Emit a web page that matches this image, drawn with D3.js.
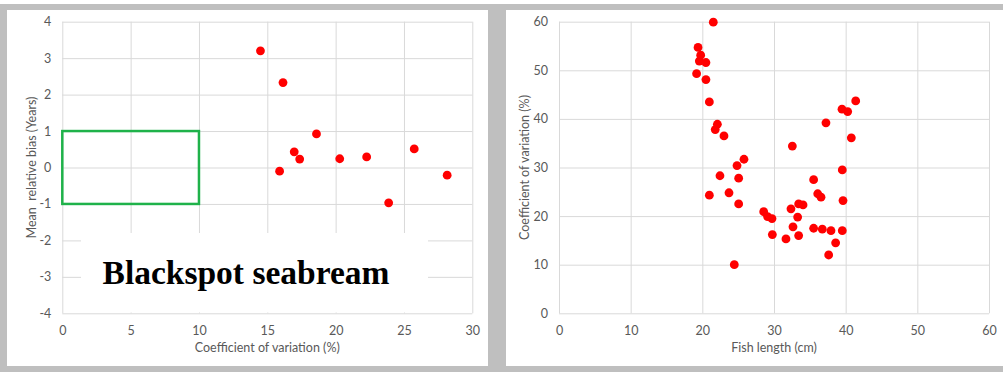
<!DOCTYPE html>
<html>
<head>
<meta charset="utf-8">
<script src="https://cdn.jsdelivr.net/npm/d3@7"></script>
<style>
  html, body { margin: 0; padding: 0; background: #fff; }
  svg { display: block; }
  .tick text { font-family: Lato, "Open Sans", sans-serif; font-size: 12.5px; fill: #595959; }
  .axis-title { font-family: Lato, "Open Sans", sans-serif; font-size: 12.5px; fill: #595959; white-space: pre; }
</style>
</head>
<body>
<svg id="chart" width="1003" height="372"></svg>
<script>
// Left panel: age-reading bias versus coefficient of variation
const leftCV   = [14.5, 16.15, 18.6, 16.97, 17.37, 15.9, 20.3, 22.27, 25.75, 28.16, 23.88];
const leftBias = [3.2, 2.33, 0.92, 0.43, 0.23, -0.1, 0.24, 0.29, 0.51, -0.21, -0.97];
const leftXTicks = [0, 5, 10, 15, 20, 25, 30];
const leftYTicks = [-4, -3, -2, -1, 0, 1, 2, 3, 4];
// Target zone: CV up to 10 %, bias within ±1 year
const targetCV = [0, 10];
const targetBias = [-1, 1];

// Right panel: coefficient of variation versus fish length
const fishLength = [21.53, 19.4, 19.77, 19.58, 20.5, 19.2, 20.5, 20.98, 22.1, 21.8,
                    23.02, 32.56, 37.25, 39.49, 40.28, 41.4, 40.79, 39.53, 25.81, 24.84,
                    22.46, 25.07, 20.98, 23.72, 25.07, 28.56, 29.1, 29.72, 29.77, 31.67,
                    24.46, 32.37, 32.65, 33.3, 33.44, 34.05, 33.44, 35.53, 36.1, 36.56,
                    35.53, 36.74, 37.95, 38.6, 37.63, 39.63, 39.53];
const lengthCV   = [59.9, 54.7, 53.1, 51.9, 51.6, 49.3, 48.1, 43.5, 38.9, 37.8,
                    36.5, 34.4, 39.2, 42.0, 41.5, 43.7, 36.1, 29.5, 31.7, 30.4,
                    28.3, 27.8, 24.3, 24.8, 22.5, 20.9, 19.9, 19.5, 16.2, 15.3,
                    10.0, 21.5, 17.8, 19.8, 22.5, 22.3, 16.0, 27.5, 24.6, 23.9,
                    17.5, 17.3, 17.0, 14.5, 12.0, 23.2, 17.0];
const rightXTicks = [0, 10, 20, 30, 40, 50, 60];
const rightYTicks = [0, 10, 20, 30, 40, 50, 60];

const svg = d3.select("#chart");
const frame = "#bfbfbf";

// Grey frame around the two panels
svg.append("rect").attr("x", 0).attr("y", 4).attr("width", 1003).attr("height", 6).attr("fill", frame);
svg.append("rect").attr("x", 0).attr("y", 4).attr("width", 7).attr("height", 368).attr("fill", frame);
svg.append("rect").attr("x", 488).attr("y", 4).attr("width", 18).attr("height", 368).attr("fill", frame);
svg.append("rect").attr("x", 0).attr("y", 366).attr("width", 1003).attr("height", 6).attr("fill", frame);

// Plain hyphen for negative tick labels
const plain = d => String(d);

function drawPanel(opts) {
  const x = d3.scaleLinear().domain(opts.xDomain).range(opts.xRange);
  const y = d3.scaleLinear().domain(opts.yDomain).range(opts.yRange);
  const h = opts.yRange[0] - opts.yRange[1];
  const w = opts.xRange[1] - opts.xRange[0];

  const gx = svg.append("g")
    .attr("transform", `translate(0,${opts.yRange[0]})`)
    .call(d3.axisBottom(x).tickValues(opts.xTicks).tickFormat(plain).tickSize(-h).tickPadding(10));
  const gy = svg.append("g")
    .attr("transform", `translate(${opts.xRange[0]},0)`)
    .call(d3.axisLeft(y).tickValues(opts.yTicks).tickFormat(plain).tickSize(-w).tickPadding(11));
  [gx, gy].forEach(g => {
    g.select(".domain").remove();
    g.selectAll(".tick line").attr("stroke", "#d9d9d9").attr("stroke-width", 1);
  });
  gx.selectAll(".tick text").attr("dy", "0.9em");

  svg.append("text").attr("class", "axis-title")
    .attr("x", (opts.xRange[0] + opts.xRange[1]) / 2).attr("y", 352)
    .attr("text-anchor", "middle").text(opts.xTitle);
  svg.append("text").attr("class", "axis-title")
    .attr("transform", `translate(${opts.yTitleX},${(opts.yRange[0] + opts.yRange[1]) / 2}) rotate(-90)`)
    .attr("text-anchor", "middle").text(opts.yTitle);
  return { x, y };
}

// Left panel
const L = drawPanel({
  xDomain: [0, 30], xRange: [62.3, 472.3],
  yDomain: [-4, 4], yRange: [313.3, 21.7],
  xTicks: leftXTicks, yTicks: leftYTicks,
  xTitle: "Coefficient of variation (%)",
  yTitle: "Mean  relative bias (Years)", yTitleX: 36
});

// Species label on a white card over the lower grid
svg.append("rect").attr("x", 81).attr("y", 233).attr("width", 347).attr("height", 79.5).attr("fill", "#fff");
svg.append("text")
  .attr("x", 246).attr("y", 283.5).attr("text-anchor", "middle")
  .attr("font-family", "'Liberation Serif', 'DejaVu Serif', serif")
  .attr("font-weight", "bold").attr("font-size", 33.5).attr("fill", "#000")
  .text("Blackspot seabream");

svg.append("rect")
  .attr("x", L.x(targetCV[0])).attr("y", L.y(targetBias[1]))
  .attr("width", L.x(targetCV[1]) - L.x(targetCV[0]))
  .attr("height", L.y(targetBias[0]) - L.y(targetBias[1]))
  .attr("fill", "none").attr("stroke", "#1fb24a").attr("stroke-width", 2.5);

svg.append("g").selectAll("circle").data(leftCV).join("circle")
  .attr("cx", d => L.x(d)).attr("cy", (d, i) => L.y(leftBias[i]))
  .attr("r", 4.4).attr("fill", "#ff0000");

// Right panel
const R = drawPanel({
  xDomain: [0, 60], xRange: [559, 989],
  yDomain: [0, 60], yRange: [313.3, 21.7],
  xTicks: rightXTicks, yTicks: rightYTicks,
  xTitle: "Fish length (cm)",
  yTitle: "Coefficient of variation (%)", yTitleX: 529
});

svg.append("g").selectAll("circle").data(fishLength).join("circle")
  .attr("cx", d => R.x(d)).attr("cy", (d, i) => R.y(lengthCV[i]))
  .attr("r", 4.4).attr("fill", "#ff0000");
</script>
</body>
</html>
